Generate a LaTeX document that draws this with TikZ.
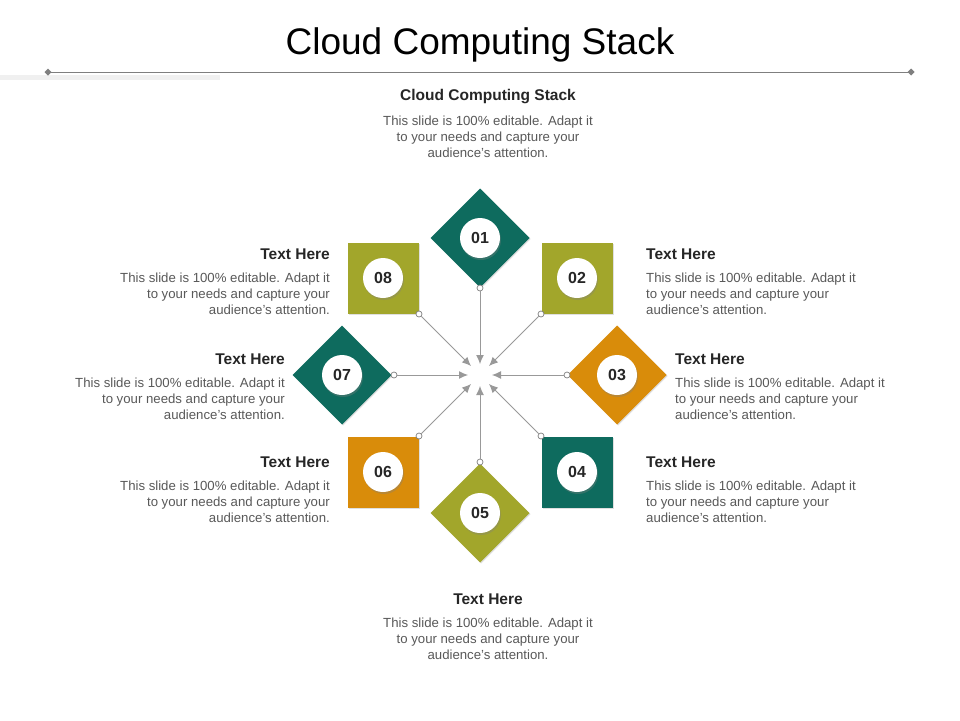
\documentclass[tikz,border=0pt]{standalone}
\usepackage{fontspec}
\setmainfont{Liberation Sans}
\usetikzlibrary{shadows,arrows.meta}
\definecolor{teal}{HTML}{0E6B5E}
\definecolor{olive}{HTML}{A2A62B}
\definecolor{orng}{HTML}{D98C0A}
\definecolor{gline}{HTML}{7F7F7F}
\begin{document}
\begin{tikzpicture}[x=1pt,y=-1pt,
  sq/.style={minimum size=71pt,inner sep=0pt,draw=none,drop shadow={opacity=0.25,shadow xshift=1pt,shadow yshift=-1pt}},
  dm/.style={sq,minimum size=70pt,rotate=45},
  num/.style={circle,fill=white,minimum size=40pt,inner sep=0pt,font=\fontsize{16}{18}\selectfont\bfseries,text=black!85,drop shadow={opacity=0.35,shadow xshift=1pt,shadow yshift=-2pt}},
  dot/.style={circle,draw=gline,fill=white,minimum size=6pt,inner sep=0pt,line width=0.7pt},
  arr/.style={draw=gline!80,line width=1pt,-{Latex[length=9pt,width=8pt]}},
  hd/.style={font=\fontsize{15.5}{18}\selectfont\bfseries,text=black!85,inner sep=0pt},
  bd/.style={font=\fontsize{13.2}{16}\selectfont,text=black!65,inner sep=0pt}]
\useasboundingbox (0,0) rectangle (960,720);
\fill[white] (0,0) rectangle (960,720);
\node[font=\fontsize{37}{42}\selectfont,text=black] (title) at (480,45) {Cloud Computing Stack};
\fill[black!6] (0,75) rectangle (220,80);
\coordinate (la) at (48,72); \coordinate (lb) at (911,72);
\draw[gline,line width=0.8pt] (la) -- (lb);
\fill[gline] (la) ++(-3.5,0) -- ++(3.5,-3.5) -- ++(3.5,3.5) -- ++(-3.5,3.5) -- cycle;
\fill[gline] (lb) ++(-3.5,0) -- ++(3.5,-3.5) -- ++(3.5,3.5) -- ++(-3.5,3.5) -- cycle;
\coordinate (c) at (480,375);
% shapes
\node[dm,fill=teal] (s1) at (480,238) {};
\node[sq,fill=olive] (s2) at (577,278) {};
\node[dm,fill=orng] (s3) at (617,375) {};
\node[sq,fill=teal] (s4) at (577,472) {};
\node[dm,fill=olive] (s5) at (480,513) {};
\node[sq,fill=orng] (s6) at (383,472) {};
\node[dm,fill=teal] (s7) at (342,375) {};
\node[sq,fill=olive] (s8) at (383,278) {};
\foreach \i/\x/\y in {1/480/238,2/577/278,3/617/375,4/577/472,5/480/513,6/383/472,7/342/375,8/383/278}
  \node[num] (n\i) at (\x,\y) {0\i};
% connectors
\node[dot] (d1) at (480,288) {};
\node[dot] (d2) at (541,314) {};
\node[dot] (d3) at (567,375) {};
\node[dot] (d4) at (541,436) {};
\node[dot] (d5) at (480,462) {};
\node[dot] (d6) at (419,436) {};
\node[dot] (d7) at (394,375) {};
\node[dot] (d8) at (419,314) {};
\coordinate (e1) at (480,364); \coordinate (e2) at (489,366);
\coordinate (e3) at (492,375); \coordinate (e4) at (489,384);
\coordinate (e5) at (480,386); \coordinate (e6) at (471,384);
\coordinate (e7) at (468,375); \coordinate (e8) at (471,366);
\foreach \i in {1,...,8} \draw[arr] (d\i) -- (e\i);
% texts
\node[hd] (h0) at (488,97) {Cloud Computing Stack};
\node[bd,align=center,anchor=north] (b0) at (488,116) {This slide is 100\% editable. Adapt it\\to your needs and capture your\\audience’s attention.};
\node[hd] (h5) at (488,599) {Text Here};
\node[bd,align=center,anchor=north] (b5) at (488,618) {This slide is 100\% editable. Adapt it\\to your needs and capture your\\audience’s attention.};
\foreach \n/\x/\y in {8/330/254,7/285/359,6/330/462}{
  \node[hd,anchor=east] (h\n) at (\x,\y) {Text Here};
  \node[bd,align=right,anchor=north east] (b\n) at (\x,\y+19) {This slide is 100\% editable. Adapt it\\to your needs and capture your\\audience’s attention.};}
\foreach \n/\x/\y in {2/646/254,3/675/359,4/646/462}{
  \node[hd,anchor=west] (h\n) at (\x,\y) {Text Here};
  \node[bd,align=left,anchor=north west] (b\n) at (\x,\y+19) {This slide is 100\% editable. Adapt it\\to your needs and capture your\\audience’s attention.};}
\end{tikzpicture}
\end{document}
